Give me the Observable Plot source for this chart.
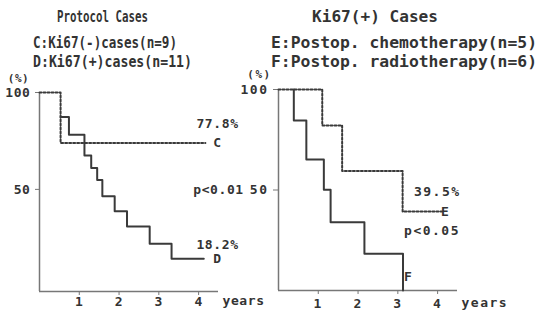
<!DOCTYPE html>
<html><head><meta charset="utf-8">
<script src="https://cdn.jsdelivr.net/npm/d3@7"></script>
<script src="https://cdn.jsdelivr.net/npm/@observablehq/plot@0.6"></script>
<style>
body{margin:0;background:#fff;}
#wrap{position:relative;width:537px;height:321px;overflow:hidden;background:#fff;}
#wrap svg{position:absolute;top:0;}
.t{position:absolute;font-family:"DejaVu Sans Mono",monospace;font-weight:bold;color:#333;white-space:pre;line-height:1;transform-origin:0 50%;}
</style></head><body><div id="wrap"></div>
<script>
// Panel 1: Protocol cases (C dotted, D solid)
const cTime = [0, 0.53, 4.17];
const cSurv = [100, 74.0, 74.0];
const dTime = [0.53, 0.74, 1.13, 1.30, 1.45, 1.58, 1.89, 2.20, 2.77, 3.32, 4.13];
const dSurv = [87.3, 78.2, 67.5, 61.1, 54.9, 46.5, 38.7, 30.8, 21.9, 14.2, 14.2];
// Panel 2: Ki67(+) cases (E dotted, F solid)
const eTime = [0, 1.10, 1.60, 3.12, 4.11];
const eSurv = [100, 82.1, 59.4, 39.3, 39.3];
const fTime = [0.385, 0.385, 0.70, 1.14, 1.31, 2.16, 3.13];
const fSurv = [100, 84.6, 65.2, 50.1, 34.0, 18.3, 0];
// Ticks
const xTicks = [1, 2, 3, 4];
const yTicks = [50, 100];
// Texts
const leftTitles = ["Protocol Cases", "C:Ki67(-)cases(n=9)", "D:Ki67(+)cases(n=11)"];
const rightTitles = ["Ki67(+) Cases", "E:Postop. chemotherapy(n=5)", "F:Postop. radiotherapy(n=6)"];
const leftNotes = [
  {t: 4.475, s: 84.0, label: "77.8%", anchor: "end"},
  {t: 4.475, s: 74.2, label: "C", anchor: "end"},
  {t: 4.5, s: 50.0, label: "p<0.01", anchor: "end"},
  {t: 4.475, s: 21.6, label: "18.2%", anchor: "end"},
  {t: 4.475, s: 14.3, label: "D", anchor: "end"}
];
const rightNotes = [
  {t: 3.99, s: 48.9, label: "39.5%", anchor: "start"},
  {t: 4.20, s: 39.0, label: "E", anchor: "start"},
  {t: 3.86, s: 29.9, label: "p<0.05", anchor: "start"},
  {t: 3.27, s: 6.6, label: "F", anchor: "start"}
];

const rows = (T, S) => T.map((t, i) => ({t, s: S[i]}));
const ink = "#3a3a3a", axisInk = "#777";
const font = '"DejaVu Sans Mono", monospace';

function panel({width, marginLeft, marginRight, marginTop, marginBottom, yMin, dotted, solid, notes, ls, tickSizeY, padX, yearsDy, pctDx, pctDy}) {
  return Plot.plot({
    width, height: 321, marginLeft, marginRight, marginTop, marginBottom,
    x: {domain: [0, 4.5]},
    y: {domain: [yMin, 100]},
    style: {fontFamily: font, fontSize: "13px", fontWeight: "bold", color: "#333", background: "transparent", letterSpacing: ls, overflow: "visible"},
    marks: [
      Plot.ruleX([0], {stroke: axisInk, strokeWidth: 1.5}),
      Plot.ruleY([yMin], {stroke: axisInk, strokeWidth: 1.5}),
      Plot.axisX(xTicks, {tickSize: 4, tickPadding: padX, stroke: axisInk, label: null, tickFormat: d => String(d)}),
      Plot.axisY(yTicks, {tickSize: tickSizeY, tickPadding: 5, stroke: axisInk, label: null, tickFormat: d => String(d)}),
      Plot.line(dotted, {x: "t", y: "s", curve: "step-after", stroke: ink, strokeWidth: 2, strokeDasharray: "2,2"}),
      Plot.line(solid, {x: "t", y: "s", curve: "step-after", stroke: ink, strokeWidth: 2}),
      Plot.text(notes, {x: "t", y: "s", text: "label", textAnchor: d => d.anchor, fill: "#333", fontSize: 13, fontWeight: "bold"}),
      Plot.text(["years"], {frameAnchor: "bottom-right", text: d => d, textAnchor: "start", dx: 4, dy: yearsDy, fill: "#333", fontSize: 13, fontWeight: "bold"}),
      Plot.text(["(%)"], {frameAnchor: "top-left", text: d => d, textAnchor: "middle", dx: pctDx, dy: pctDy, fill: "#333", fontSize: 11, fontWeight: "bold"})
    ]
  });
}

const wrap = document.getElementById("wrap");
const left = panel({width: 260, marginLeft: 39, marginRight: 42, marginTop: 92, marginBottom: 30, yMin: -2.7,
  dotted: rows(cTime, cSurv), solid: rows(dTime, dSurv), notes: leftNotes, ls: "0.6px", tickSizeY: 4, padX: 1,
  yearsDy: 13, pctDx: -21, pctDy: -18});
left.style.left = "0px";
wrap.appendChild(left);
const right = panel({width: 297, marginLeft: 38, marginRight: 80, marginTop: 89, marginBottom: 31, yMin: 0,
  dotted: rows(eTime, eSurv), solid: rows(fTime, fSurv), notes: rightNotes, ls: "1.5px", tickSizeY: 5, padX: 4,
  yearsDy: 16, pctDx: -19, pctDy: -19});
right.style.left = "240px";
wrap.appendChild(right);

function place(text, x0, x1, cy, size) {
  const el = document.createElement("div");
  el.className = "t";
  el.textContent = text;
  el.style.fontSize = size + "px";
  el.style.left = x0 + "px";
  el.style.top = (cy - 0.5 * size) + "px";
  wrap.appendChild(el);
  const w = el.getBoundingClientRect().width;
  el.style.transform = `scaleX(${(x1 - x0) / w})`;
}
place(leftTitles[0], 57, 148, 17, 16);
place(leftTitles[1], 33, 177, 43, 15);
place(leftTitles[2], 33, 192, 62, 15);
place(rightTitles[0], 312, 438, 17, 15);
place(rightTitles[1], 271, 537, 43, 15);
place(rightTitles[2], 271, 537, 62, 15);
</script></body></html>
